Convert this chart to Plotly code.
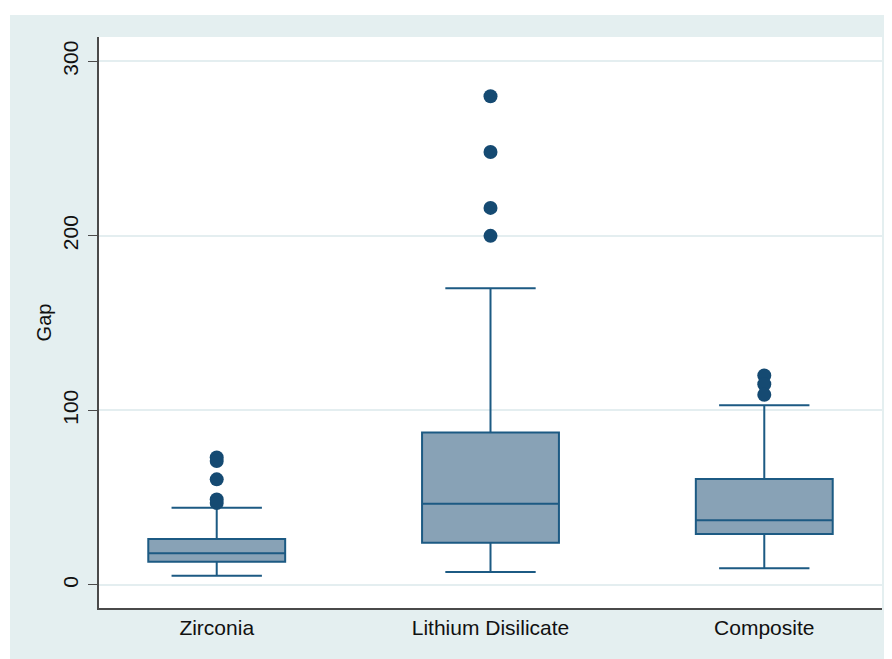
import plotly.graph_objects as go

categories = ["Zirconia", "Lithium Disilicate", "Composite"]
q1 = [13.3, 24.2, 29.2]
median = [18.1, 46.5, 37.0]
q3 = [26.3, 87.4, 60.7]
lower_whisker = [5.3, 7.4, 9.5]
upper_whisker = [44.3, 170.0, 103.0]

outlier_groups = ["Zirconia"] * 5 + ["Lithium Disilicate"] * 4 + ["Composite"] * 3
outlier_values = [73, 71, 60.5, 49, 47, 280, 248, 216, 200, 120, 115, 109]

y_ticks = [0, 100, 200, 300]

BG = "#E4EFF0"
BOX_FILL = "#88A2B6"
BOX_LINE = "#1C5A83"
DOT = "#154A72"
AXIS = "#4a4a4a"

# page has an 8px body margin; figure is sized/positioned to compensate
W, H = 884, 651
L, R, T, B = 91, 10, 29, 51
PW, PH = W - L - R, H - T - B

fig = go.Figure()
fig.add_trace(go.Box(
    x=categories, q1=q1, median=median, q3=q3,
    lowerfence=lower_whisker, upperfence=upper_whisker,
    boxpoints=False, width=0.5, whiskerwidth=0.66,
    fillcolor=BOX_FILL, line=dict(color=BOX_LINE, width=2),
    showlegend=False, hoverinfo="skip",
))
fig.add_trace(go.Scatter(
    x=outlier_groups, y=outlier_values, mode="markers",
    marker=dict(color=DOT, size=14, line=dict(width=0)),
    showlegend=False, hoverinfo="skip",
))

font = "Liberation Sans, Arial, Helvetica, sans-serif"

fig.update_layout(
    width=W, height=H,
    margin=dict(l=L, r=R, t=T, b=B),
    paper_bgcolor=BG, plot_bgcolor="white",
    font=dict(family=font, size=20, color="black"),
    xaxis=dict(
        type="category", categoryorder="array", categoryarray=categories,
        range=[-0.43, 2.43], showgrid=False, zeroline=False,
        showline=True, linecolor=AXIS, linewidth=1.5,
        ticks="", tickfont=dict(size=21, family=font, color="#111111"),
        ticklabelstandoff=0,
    ),
    yaxis=dict(
        range=[-13.2, 313.9], tickvals=y_ticks, ticktext=[str(v) for v in y_ticks],
        tickangle=-90, showgrid=True, gridcolor="#E4EEF0", gridwidth=1.5,
        zeroline=False, showline=True, linecolor=AXIS, linewidth=1.5,
        ticks="outside", ticklen=9, tickcolor=AXIS, tickwidth=1.2,
        tickfont=dict(size=21, family=font, color="#111111"),
        ticklabelstandoff=2,
        title=dict(text="Gap", font=dict(size=20, family=font, color="#111111"), standoff=2),
    ),
    shapes=[
        dict(type="rect", xref="paper", yref="paper", x0=-0.2, x1=1.1,
             y0=(PH + T - 7) / PH, y1=1.2,
             fillcolor="white", line=dict(width=0), layer="above"),
        dict(type="rect", xref="paper", yref="paper", x0=-0.2, x1=(2 - L) / PW,
             y0=-0.2, y1=1.2, fillcolor="white", line=dict(width=0), layer="above"),
    ],
)

fig.write_html("out.html")
